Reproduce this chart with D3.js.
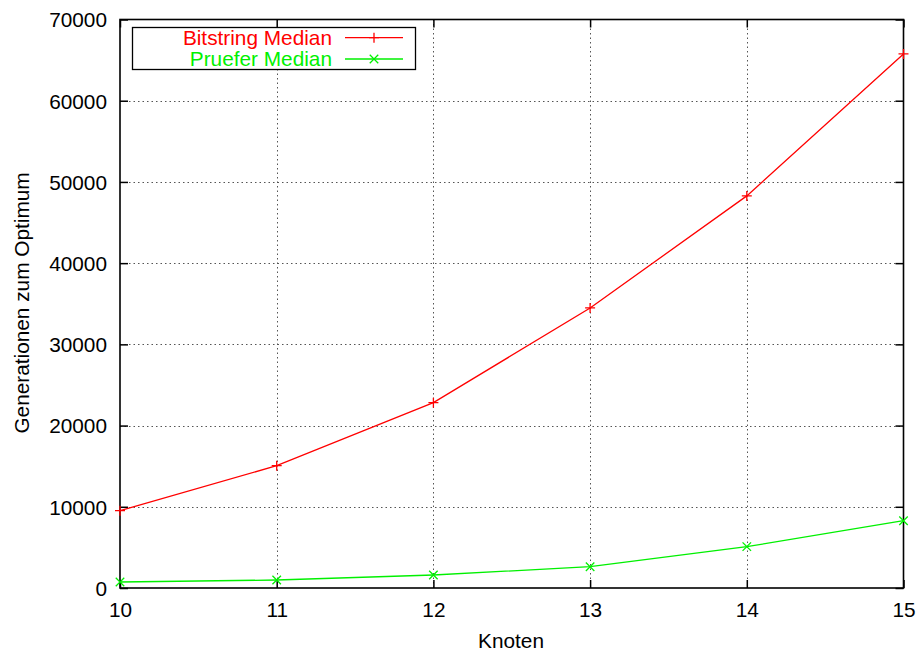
<!DOCTYPE html>
<html>
<head>
<meta charset="utf-8">
<script src="https://cdn.jsdelivr.net/npm/d3@7"></script>
<style>
  html, body { margin: 0; padding: 0; background: #fff; }
  svg { display: block; font-family: "Liberation Sans", Arial, Helvetica, sans-serif; }
</style>
</head>
<body>
<svg id="chart" width="922" height="653"></svg>
<script>
// Number of nodes (x axis)
const knoten = [10, 11, 12, 13, 14, 15];
// Median generations until the optimum is reached
const bitstringMedian = [9520, 15060, 22820, 34480, 48280, 65760];
const prueferMedian = [740, 985, 1600, 2620, 5090, 8290];
// Axis ticks
const xTicks = [10, 11, 12, 13, 14, 15];
const yTicks = [0, 10000, 20000, 30000, 40000, 50000, 60000, 70000];

const series = [
  { name: "Bitstring Median", values: bitstringMedian, color: "#ff0000", marker: "plus" },
  { name: "Pruefer Median", values: prueferMedian, color: "#00f000", marker: "cross" }
];

const FS = 20.8;
const svg = d3.select("#chart");
const margin = { left: 120, right: 922 - 903.5, top: 19.5, bottom: 653 - 588 };
const W = 922, H = 653;
const x = d3.scaleLinear().domain([10, 15]).range([margin.left, W - margin.right]);
const y = d3.scaleLinear().domain([0, 70000]).range([H - margin.bottom, margin.top]);

const x0 = x.range()[0], x1 = x.range()[1];
const y0 = y.range()[0], y1 = y.range()[1];

// Dotted grid
const grid = svg.append("g").attr("stroke", "#555").attr("stroke-width", 1)
  .attr("stroke-dasharray", "1.5,3");
grid.selectAll("line.gx").data(xTicks.slice(1, -1)).join("line")
  .attr("x1", d => Math.round(x(d)) + 0.5).attr("x2", d => Math.round(x(d)) + 0.5)
  .attr("y1", y0).attr("y2", y1);
grid.selectAll("line.gy").data(yTicks.slice(1, -1)).join("line")
  .attr("x1", x0).attr("x2", x1)
  .attr("y1", d => Math.round(y(d)) + 0.5).attr("y2", d => Math.round(y(d)) + 0.5);

// Axes with inward ticks, mirrored on the opposite sides
const tickLen = 8;
const fmt = d3.format("d");
const bottomAxis = d3.axisBottom(x).tickValues(xTicks).tickFormat(fmt).tickSizeInner(-tickLen).tickSizeOuter(0);
const leftAxis = d3.axisLeft(y).tickValues(yTicks).tickFormat(fmt).tickSizeInner(-tickLen).tickSizeOuter(0);
const topAxis = d3.axisTop(x).tickValues(xTicks).tickSizeInner(-tickLen).tickSizeOuter(0).tickFormat("");
const rightAxis = d3.axisRight(y).tickValues(yTicks).tickSizeInner(-tickLen).tickSizeOuter(0).tickFormat("");

function styleAxis(g) {
  g.select(".domain").remove();
  g.selectAll(".tick line").attr("stroke", "#000").attr("stroke-width", 1.5);
  g.selectAll(".tick text").attr("fill", "#000").attr("font-size", FS)
    .attr("font-family", "Liberation Sans, Arial, sans-serif");
}

svg.append("g").attr("transform", `translate(0,${y0})`).call(bottomAxis).call(styleAxis)
  .selectAll(".tick text").attr("y", 29).attr("dy", 0);
svg.append("g").attr("transform", `translate(${x0},0)`).call(leftAxis).call(styleAxis)
  .selectAll(".tick text").attr("x", -13).attr("dy", 7.3);
svg.append("g").attr("transform", `translate(0,${y1})`).call(topAxis).call(styleAxis);
svg.append("g").attr("transform", `translate(${x1},0)`).call(rightAxis).call(styleAxis);

// Frame
svg.append("rect").attr("x", x0).attr("y", y1).attr("width", x1 - x0).attr("height", y0 - y1)
  .attr("fill", "none").attr("stroke", "#000").attr("stroke-width", 1.6);

// Series lines and markers
const line = d3.line().x((d, i) => x(knoten[i])).y(d => y(d));
const ms = 5;
function drawMarker(g, type, cx, cy, color) {
  if (type === "plus") {
    g.append("path").attr("d", `M${cx - ms},${cy}H${cx + ms}M${cx},${cy - ms}V${cy + ms}`)
      .attr("stroke", color).attr("stroke-width", 1.3).attr("fill", "none");
  } else {
    const s = ms * 0.85;
    g.append("path").attr("d", `M${cx - s},${cy - s}L${cx + s},${cy + s}M${cx - s},${cy + s}L${cx + s},${cy - s}`)
      .attr("stroke", color).attr("stroke-width", 1.3).attr("fill", "none");
  }
}

series.forEach(s => {
  const g = svg.append("g");
  g.append("path").datum(s.values).attr("d", line)
    .attr("fill", "none").attr("stroke", s.color).attr("stroke-width", 1.3);
  s.values.forEach((v, i) => drawMarker(g, s.marker, x(knoten[i]), y(v), s.color));
});

// Axis titles
svg.append("text").attr("x", 511).attr("y", 648).attr("text-anchor", "middle")
  .attr("font-size", FS).attr("fill", "#000").text("Knoten");
svg.append("text").attr("transform", "translate(29,303) rotate(-90)").attr("text-anchor", "middle")
  .attr("font-size", FS).attr("fill", "#000").text("Generationen zum Optimum");

// Legend
const lg = svg.append("g");
lg.append("rect").attr("x", 132.5).attr("y", 27.5).attr("width", 283).attr("height", 42)
  .attr("fill", "#fff").attr("stroke", "#000").attr("stroke-width", 1.3);
series.forEach((s, i) => {
  const ly = 37.7 + i * 21.3;
  lg.append("text").attr("x", 332).attr("y", ly + 7).attr("text-anchor", "end")
    .attr("font-size", FS).attr("fill", s.color).text(s.name);
  lg.append("line").attr("x1", 345).attr("x2", 403).attr("y1", ly).attr("y2", ly)
    .attr("stroke", s.color).attr("stroke-width", 1.3);
  drawMarker(lg, s.marker, 374, ly, s.color);
});
</script>
</body>
</html>
